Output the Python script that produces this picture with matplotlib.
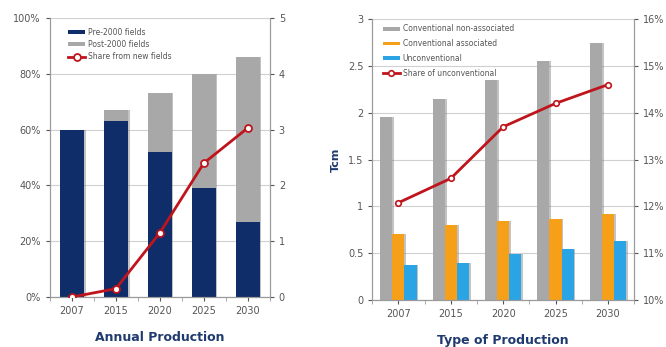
import matplotlib.pyplot as plt
import numpy as np

years = ['2007', '2015', '2020', '2025', '2030']

# left panel: share of production by field vintage (%)
pre_2000 = [60, 63, 52, 39, 27]
post_2000 = [0, 4, 21, 41, 59]
share_new = [0, 0.15, 1.15, 2.4, 3.03]

# right panel: production by type (Tcm) and unconventional share (%)
conv_nonassoc = [1.95, 2.15, 2.35, 2.55, 2.75]
conv_assoc = [0.71, 0.80, 0.84, 0.87, 0.92]
unconv = [0.37, 0.40, 0.49, 0.55, 0.63]
share_unconv = [12.08, 12.6, 13.7, 14.2, 14.6]

NAVY = '#0f2d69'
GREY = '#a8a8a8'
ORANGE = '#f6a01a'
BLUE = '#2ba4e6'
RED = '#c0141c'
TXT = '#555555'
TITLE = '#1f3a6e'

plt.rcParams['font.family'] = 'DejaVu Sans'


def style_axes(ax):
    for s in ['left', 'right', 'bottom']:
        ax.spines[s].set_color('#9a9a9a')
    ax.spines['top'].set_visible(False)
    ax.tick_params(colors=TXT, labelsize=7, length=3, width=0.8)
    ax.yaxis.grid(True, color='#d0d0d0', lw=0.8)
    ax.set_axisbelow(True)


def shadow(ax, x, h, w, bottom=None):
    ax.bar(np.asarray(x) + 0.035, h, w, bottom=bottom, color='#7a7a7a',
           alpha=0.45, zorder=1)


fig = plt.figure(figsize=(6.66, 3.47), dpi=100)

# ---- Annual Production ----
ax1 = fig.add_axes([0.075, 0.144, 0.33, 0.804])
x = np.arange(len(years))
w = 0.55
tot = np.array(pre_2000) + np.array(post_2000)
shadow(ax1, x, tot, w)
ax1.bar(x, pre_2000, w, color=NAVY, label='Pre-2000 fields', zorder=2)
ax1.bar(x, post_2000, w, bottom=pre_2000, color=GREY,
        label='Post-2000 fields', zorder=2)
ax1.set_xlim(-0.5, 4.5)
ax1.set_ylim(0, 100)
ax1.set_yticks(range(0, 101, 20))
ax1.set_yticklabels(['%d%%' % v for v in range(0, 101, 20)])
ax1.set_xticks(x)
ax1.set_xticklabels(years)
ax1.set_xticks(np.arange(-0.5, 5, 1), minor=True)
ax1.tick_params(axis='x', which='major', length=0)
ax1.tick_params(axis='x', which='minor', length=3, color='#9a9a9a')
style_axes(ax1)
ax1.set_xlabel('Annual Production', fontsize=9, fontweight='bold',
               color=TITLE, labelpad=11)

ax1r = ax1.twinx()
ax1r.plot(x, share_new, color=RED, lw=2, marker='o', ms=5,
          mfc='white', mec=RED, mew=1.3, label='Share from new fields', zorder=3)
ax1r.set_ylim(0, 5)
ax1r.set_yticks(range(0, 6))
style_axes(ax1r)
ax1r.yaxis.grid(False)

h1, l1 = ax1.get_legend_handles_labels()
h2, l2 = ax1r.get_legend_handles_labels()
ax1r.legend(h1 + h2, l1 + l2, loc='upper left', bbox_to_anchor=(0.06, 0.985),
            frameon=False, fontsize=5.5, handlelength=2.2, handleheight=0.4,
            labelspacing=0.45, labelcolor=TXT, borderaxespad=0.3,
            handletextpad=0.4)

# ---- Type of Production ----
ax2 = fig.add_axes([0.559, 0.135, 0.393, 0.81])
bw = 0.23
for vals, col, lab, off in [(conv_nonassoc, GREY, 'Conventional non-associated', -bw),
                            (conv_assoc, ORANGE, 'Conventional associated', 0),
                            (unconv, BLUE, 'Unconventional', bw)]:
    shadow(ax2, x + off, vals, bw)
    ax2.bar(x + off, vals, bw, color=col, label=lab, zorder=2)
ax2.set_xlim(-0.5, 4.5)
ax2.set_ylim(0, 3)
ax2.set_yticks(np.arange(0, 3.01, 0.5))
ax2.set_yticklabels(['0', '0.5', '1', '1.5', '2', '2.5', '3'])
ax2.set_xticks(x)
ax2.set_xticklabels(years)
ax2.set_xticks(np.arange(-0.5, 5, 1), minor=True)
ax2.tick_params(axis='x', which='major', length=0)
ax2.tick_params(axis='x', which='minor', length=3, color='#9a9a9a')
style_axes(ax2)
ax2.set_xlabel('Type of Production', fontsize=9, fontweight='bold',
               color=TITLE, labelpad=11)
ax2.set_ylabel('Tcm', fontsize=8, fontweight='bold', color=TITLE, labelpad=5)

ax2r = ax2.twinx()
ax2r.plot(x, share_unconv, color=RED, lw=2, marker='o', ms=4,
          mfc='white', mec=RED, mew=1.2, label='Share of unconventional', zorder=3)
ax2r.set_ylim(10, 16)
ax2r.set_yticks(range(10, 17))
ax2r.set_yticklabels(['%d%%' % v for v in range(10, 17)])
style_axes(ax2r)
ax2r.yaxis.grid(False)

h1, l1 = ax2.get_legend_handles_labels()
h2, l2 = ax2r.get_legend_handles_labels()
ax2r.legend(h1 + h2, l1 + l2, loc='upper left', bbox_to_anchor=(0.02, 1.0),
            frameon=False, fontsize=5.5, handlelength=2.2, handleheight=0.4,
            labelspacing=0.75, labelcolor=TXT, borderaxespad=0.3,
            handletextpad=0.4)

fig.savefig('out.png', dpi=100)
